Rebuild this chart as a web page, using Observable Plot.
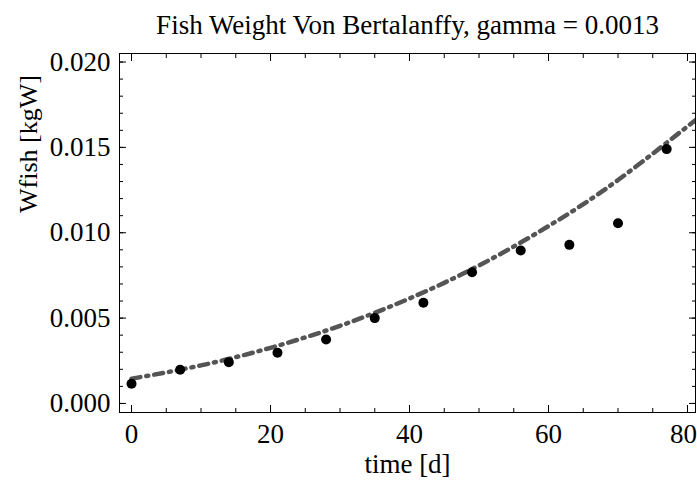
<!DOCTYPE html>
<html>
<head>
<meta charset="utf-8">
<script src="https://cdn.jsdelivr.net/npm/d3@7"></script>
<script src="https://cdn.jsdelivr.net/npm/@observablehq/plot@0.6"></script>
<style>
  html, body { margin: 0; padding: 0; background: white; }
</style>
</head>
<body>
<div id="chart"></div>
<script>
// Observed data (time in days, fish weight in kgW)
const days = [0, 7, 14, 21, 28, 35, 42, 49, 56, 63, 70, 77];
const wfish = [0.00115, 0.00197, 0.00242, 0.00297, 0.00375, 0.00500, 0.00590, 0.00769, 0.00896, 0.00929, 0.01056, 0.01490];

// Model curve (Von Bertalanffy)
const curveDays = [0, 10, 20, 30, 40, 50, 60, 70, 80, 81.2];
const curveW = [0.00145, 0.00223, 0.00326, 0.00455, 0.00615, 0.00808, 0.01039, 0.01309, 0.01623, 0.01655];

// Ticks
const xMajorInner = [0, 20, 40, 60];
const xMajorLast = [80];
const xMajor = [0, 20, 40, 60, 80];
const xMinor = [0, 5, 10, 15, 20, 25, 30, 35, 40, 45, 50, 55, 60, 65, 70, 75, 80];
const yMajor = [0, 0.005, 0.010, 0.015, 0.020];
const yMinor = [0, 0.001, 0.002, 0.003, 0.004, 0.005, 0.006, 0.007, 0.008, 0.009, 0.010,
                0.011, 0.012, 0.013, 0.014, 0.015, 0.016, 0.017, 0.018, 0.019, 0.020];

const titleText = "Fish Weight Von Bertalanffy, gamma = 0.0013";
const xLabel = "time [d]";
const yLabel = "Wfish [kgW]";

const points = days.map((d, i) => ({t: d, w: wfish[i]}));
const curve = curveDays.map((d, i) => ({t: d, w: curveW[i]}));

const chart = Plot.plot({
  width: 697,
  height: 489,
  marginLeft: 119,
  marginRight: 2,
  marginTop: 53,
  marginBottom: 77,
  style: {fontFamily: "Liberation Serif", fontSize: "27px", background: "white", color: "black"},
  x: {domain: [-1.73, 81.15]},
  y: {domain: [-0.00053, 0.0205]},
  marks: [
    Plot.line(curve, {x: "t", y: "w", stroke: "#555", strokeWidth: 4.5, strokeDasharray: "9,6,2,6", curve: "natural", clip: true}),
    Plot.dot(points, {x: "t", y: "w", r: 5, fill: "black"}),
    Plot.frame({stroke: "black"}),
    // bottom
    Plot.axisX(xMinor, {anchor: "bottom", tickSize: -4, fill: "none", label: null}),
    Plot.axisX(xMajor, {anchor: "bottom", tickSize: -7, fill: "none", label: null}),
    Plot.axisX(xMajorInner, {anchor: "bottom", tickSize: 0, tickPadding: 11, tickFormat: d3.format("d"), label: null, fontSize: 27}),
    Plot.axisX(xMajorLast, {anchor: "bottom", tickSize: 0, tickPadding: 11, tickFormat: d3.format("d"), label: null, fontSize: 27, dx: -4}),
    // top
    Plot.axisX(xMinor, {anchor: "top", tickSize: -4, fill: "none", label: null}),
    Plot.axisX(xMajor, {anchor: "top", tickSize: -7, fill: "none", label: null}),
    // left
    Plot.axisY(yMinor, {anchor: "left", tickSize: -4, fill: "none", label: null}),
    Plot.axisY(yMajor, {anchor: "left", tickSize: -7, fill: "none", label: null}),
    Plot.axisY(yMajor, {anchor: "left", tickSize: 0, tickPadding: 9, tickFormat: d3.format(".3f"), label: null, fontSize: 27}),
    // right
    Plot.axisY(yMinor, {anchor: "right", tickSize: -4, fill: "none", label: null}),
    Plot.axisY(yMajor, {anchor: "right", tickSize: -7, fill: "none", label: null}),
    // texts
    Plot.text([titleText], {frameAnchor: "top", lineAnchor: "bottom", dy: -20, fontSize: 27, fill: "black"}),
    Plot.text([xLabel], {frameAnchor: "bottom", dy: 60, fontSize: 27, fill: "black"}),
    Plot.text([yLabel], {frameAnchor: "left", rotate: -90, dx: -91, dy: -20, fontSize: 26, fill: "black"})
  ]
});
document.getElementById("chart").appendChild(chart);
</script>
</body>
</html>
